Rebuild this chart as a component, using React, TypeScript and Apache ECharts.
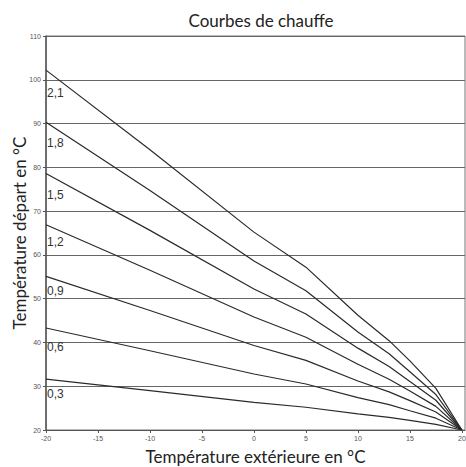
import React, { useEffect, useRef } from "react";
import * as echarts from "echarts";

const xValues = [-20, -10, 0, 5, 10, 13, 15, 17.5, 20];
const curveNames = ["2,1", "1,8", "1,5", "1,2", "0,9", "0,6", "0,3"];
const curve21 = [102.2, 84, 65.2, 57.2, 46.2, 40.4, 35.8, 29.5, 20];
const curve18 = [90.3, 74.7, 58.6, 51.8, 42.4, 37.4, 33.3, 28.1, 20];
const curve15 = [78.6, 65.6, 52.2, 46.5, 38.7, 34.5, 31.1, 26.8, 20];
const curve12 = [66.9, 56.5, 45.8, 41.2, 35.0, 31.6, 28.9, 25.4, 20];
const curve09 = [55.1, 47.3, 39.3, 35.9, 31.2, 28.7, 26.7, 24.1, 20];
const curve06 = [43.3, 38.1, 32.8, 30.5, 27.4, 25.8, 24.4, 22.7, 20];
const curve03 = [31.6, 29.0, 26.3, 25.2, 23.7, 22.9, 22.2, 21.3, 20];
const curves = [curve21, curve18, curve15, curve12, curve09, curve06, curve03];
const labelValues = [97, 85.6, 73.6, 62.9, 51.7, 38.9, 28.2];

export default function App() {
  const ref = useRef<HTMLDivElement>(null);
  useEffect(() => {
    if (!ref.current) return;
    const chart = echarts.init(ref.current, undefined, { renderer: "svg" });
    const series = curves.map((vals, i) => ({
      type: "line",
      name: curveNames[i],
      data: vals.map((v, j) => [xValues[j], v]),
      showSymbol: false,
      symbol: "none",
      color: "#333",
      lineStyle: { color: "#2a2a2a", width: 1.2 },
      markPoint: {
        symbol: "circle",
        symbolSize: 0,
        itemStyle: { color: "#333" },
        label: { color: "#333" },
        data: [
          {
            coord: [-20, labelValues[i]],
            label: {
              show: true,
              position: "right",
              distance: 1,
              formatter: curveNames[i],
              color: "#333",
              fontSize: 12,
              fontFamily: "Liberation Sans, Arial, sans-serif",
            },
          },
        ],
      },
    }));
    chart.setOption({
      animation: false,
      backgroundColor: "#fff",
      title: {
        text: "Courbes de chauffe",
        left: 256,
        textAlign: "center",
        top: 7,
        textStyle: {
          fontFamily: "Lato, sans-serif",
          fontWeight: "normal",
          fontSize: 17,
          color: "#222",
        },
      },
      grid: {
        left: 46,
        right: 1,
        top: 36,
        bottom: 37,
        outerBoundsMode: "none",
        containLabel: false,
        show: true,
        borderColor: "#777",
        borderWidth: 1,
      },
      xAxis: {
        type: "value",
        min: -20,
        max: 20.3,
        interval: 5,
        name: "Température extérieure en °C",
        nameLocation: "middle",
        nameGap: 18,
        nameMoveOverlap: false,
        nameTextStyle: {
          fontFamily: "Lato, sans-serif",
          fontSize: 17,
          color: "#222",
        },
        axisLine: { show: true, onZero: false, lineStyle: { color: "#555", width: 1 } },
        axisTick: { show: true, length: 3, lineStyle: { color: "#555" } },
        axisLabel: {
          fontSize: 7,
          color: "#555",
          margin: 5,
          showMaxLabel: false,
          fontFamily: "Liberation Sans, Arial, sans-serif",
        },
        splitLine: { show: false },
      },
      yAxis: {
        type: "value",
        min: 20,
        max: 110,
        interval: 10,
        name: "Température départ en °C",
        nameLocation: "middle",
        nameGap: 18,
        nameMoveOverlap: false,
        nameTextStyle: {
          fontFamily: "Lato, sans-serif",
          fontSize: 17,
          color: "#222",
        },
        axisLine: { show: true, onZero: false, lineStyle: { color: "#555", width: 1.5 } },
        axisTick: { show: true, length: 3, lineStyle: { color: "#555" } },
        axisLabel: {
          fontSize: 7,
          color: "#555",
          margin: 5,
          fontFamily: "Liberation Sans, Arial, sans-serif",
        },
        splitLine: { show: true, lineStyle: { color: "#666", width: 1 } },
      },
      series,
    });
    return () => chart.dispose();
  }, []);
  return <div ref={ref} style={{ width: 466, height: 467, position: "absolute", left: 0, top: 0 }} />;
}
